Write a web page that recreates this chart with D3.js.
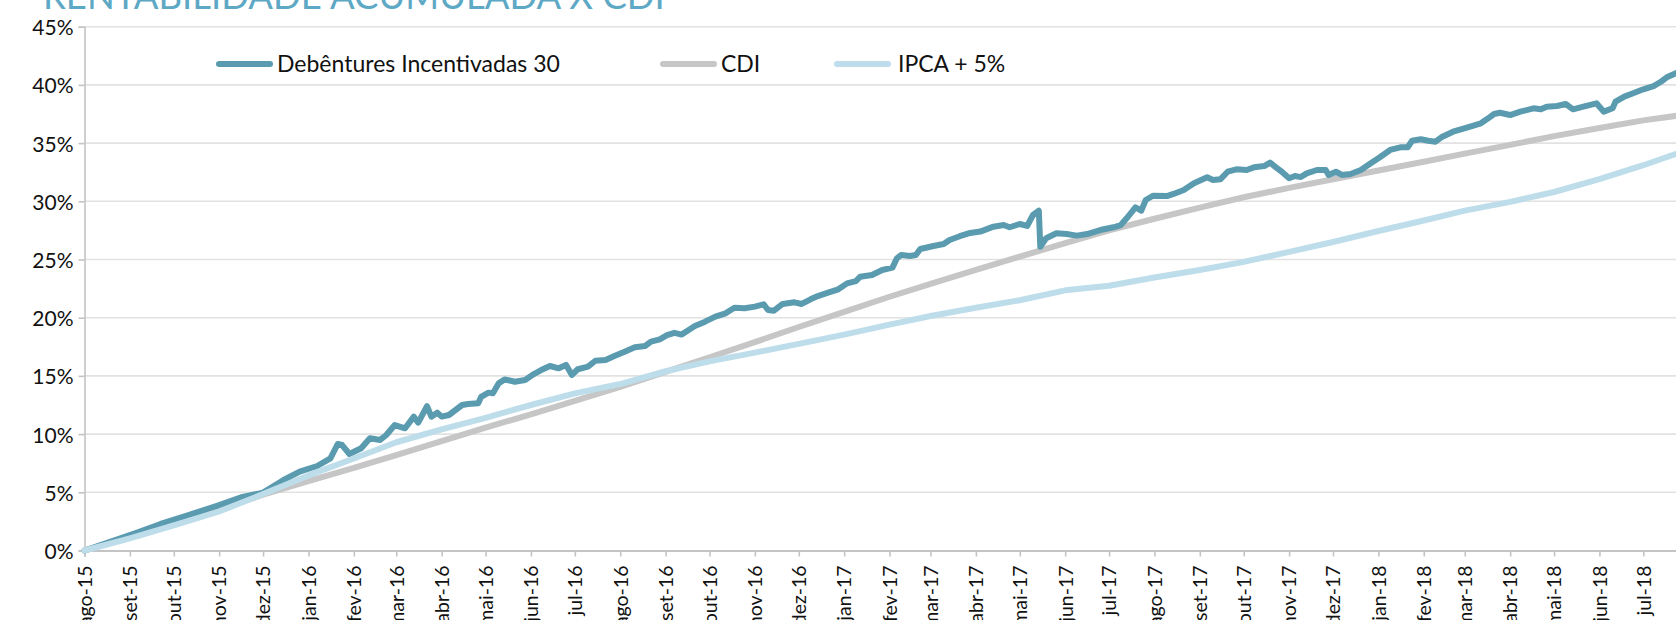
<!DOCTYPE html>
<html>
<head>
<meta charset="utf-8">
<script src="https://cdnjs.cloudflare.com/ajax/libs/d3/7.8.5/d3.min.js"></script>
<style>
  body { margin: 0; background: #fff; }
  svg { display: block; }
</style>
</head>
<body>
<svg id="chart"></svg>
<script>
//series values: [date, cumulative %]
var debentures = [
["2015-08-01",0],["2015-08-20",0.8],["2015-09-05",1.5],["2015-09-22",2.28],["2015-10-10",3.0],["2015-10-30",3.82],["2015-11-17",4.6],["2015-12-01",4.97],["2015-12-15",6.06],["2015-12-26",6.77],["2016-01-07",7.26],["2016-01-16",7.92],["2016-01-21",9.15],["2016-01-24",9.06],["2016-01-29",8.29],["2016-02-06",8.78],["2016-02-12",9.64],["2016-02-19",9.5],["2016-02-23",9.9],["2016-02-29",10.78],["2016-03-07",10.5],["2016-03-13",11.5],["2016-03-16",10.98],["2016-03-22",12.4],["2016-03-25",11.5],["2016-03-29",11.84],["2016-04-01",11.5],["2016-04-06",11.64],["2016-04-15",12.5],["2016-04-19",12.59],["2016-04-26",12.65],["2016-04-28",13.2],["2016-05-03",13.56],["2016-05-06",13.5],["2016-05-10",14.36],["2016-05-14",14.7],["2016-05-21",14.5],["2016-05-28",14.65],["2016-06-03",15.16],["2016-06-08",15.5],["2016-06-14",15.85],["2016-06-20",15.65],["2016-06-25",15.94],["2016-06-29",15.08],["2016-07-03",15.57],["2016-07-10",15.79],["2016-07-15",16.3],["2016-07-22",16.37],["2016-07-28",16.7],["2016-08-04",17.08],["2016-08-11",17.46],["2016-08-18",17.57],["2016-08-22",17.94],["2016-08-28",18.14],["2016-09-02",18.5],["2016-09-07",18.7],["2016-09-12",18.55],["2016-09-21",19.29],["2016-09-28",19.66],["2016-10-05",20.09],["2016-10-12",20.38],["2016-10-18",20.86],["2016-10-25",20.81],["2016-11-01",20.95],["2016-11-07",21.15],["2016-11-10",20.66],["2016-11-14",20.6],["2016-11-20",21.18],["2016-11-28",21.32],["2016-12-03",21.18],["2016-12-09",21.58],["2016-12-14",21.86],["2016-12-21",22.15],["2016-12-28",22.44],["2017-01-03",22.95],["2017-01-09",23.15],["2017-01-12",23.52],["2017-01-20",23.67],["2017-01-27",24.1],["2017-02-03",24.3],["2017-02-06",25.1],["2017-02-09",25.39],["2017-02-15",25.3],["2017-02-19",25.39],["2017-02-22",25.9],["2017-03-03",26.16],["2017-03-10",26.33],["2017-03-14",26.68],["2017-03-21",27.0],["2017-03-27",27.25],["2017-04-04",27.4],["2017-04-13",27.82],["2017-04-20",27.96],["2017-04-24",27.77],["2017-05-01",28.05],["2017-05-06",27.88],["2017-05-10",28.82],["2017-05-14",29.19],["2017-05-15",26.1],["2017-05-19",26.82],["2017-05-26",27.25],["2017-06-02",27.19],["2017-06-09",27.05],["2017-06-16",27.19],["2017-06-25",27.53],["2017-07-04",27.77],["2017-07-09",27.96],["2017-07-13",28.54],["2017-07-19",29.48],["2017-07-23",29.19],["2017-07-26",30.11],["2017-07-31",30.48],["2017-08-10",30.46],["2017-08-14",30.63],["2017-08-21",30.97],["2017-08-28",31.55],["2017-09-06",32.06],["2017-09-10",31.83],["2017-09-15",31.89],["2017-09-20",32.54],["2017-09-26",32.75],["2017-10-03",32.69],["2017-10-08",32.92],["2017-10-15",33.03],["2017-10-19",33.32],["2017-10-23",32.92],["2017-10-27",32.54],["2017-11-01",31.98],["2017-11-05",32.17],["2017-11-09",32.08],["2017-11-13",32.4],["2017-11-20",32.69],["2017-11-26",32.69],["2017-11-28",32.26],["2017-12-03",32.54],["2017-12-07",32.26],["2017-12-13",32.35],["2017-12-20",32.69],["2017-12-26",33.2],["2018-01-02",33.78],["2018-01-09",34.41],["2018-01-16",34.64],["2018-01-21",34.64],["2018-01-24",35.2],["2018-01-30",35.33],["2018-02-04",35.2],["2018-02-09",35.12],["2018-02-13",35.5],["2018-02-21",35.98],["2018-03-03",36.36],["2018-03-12",36.7],["2018-03-17",37.13],["2018-03-21",37.5],["2018-03-25",37.61],["2018-04-01",37.41],["2018-04-08",37.7],["2018-04-17",37.99],["2018-04-22",37.9],["2018-04-26",38.13],["2018-05-03",38.19],["2018-05-09",38.36],["2018-05-14",37.9],["2018-05-21",38.13],["2018-05-30",38.42],["2018-06-04",37.7],["2018-06-10",37.99],["2018-06-12",38.56],["2018-06-18",38.99],["2018-06-24",39.28],["2018-07-01",39.62],["2018-07-08",39.9],["2018-07-13",40.27],["2018-07-17",40.65],["2018-07-24",41.05]
];

var cdi = [
["2015-08-01",0],["2015-09-01",1.15],["2015-10-01",2.3],["2015-11-01",3.5],["2015-12-01",4.8],["2016-01-01",5.95],["2016-02-01",7.1],["2016-03-01",8.2],["2016-04-01",9.4],["2016-05-01",10.55],["2016-06-01",11.7],["2016-07-01",12.85],["2016-08-01",14.05],["2016-09-01",15.35],["2016-10-01",16.6],["2016-11-01",17.9],["2016-12-01",19.2],["2017-01-01",20.5],["2017-02-01",21.8],["2017-03-01",22.9],["2017-04-01",24.1],["2017-05-01",25.25],["2017-06-01",26.4],["2017-07-01",27.5],["2017-08-01",28.5],["2017-09-01",29.45],["2017-10-01",30.35],["2017-11-01",31.15],["2017-12-01",31.9],["2018-01-01",32.65],["2018-02-01",33.4],["2018-03-01",34.1],["2018-04-01",34.85],["2018-05-01",35.6],["2018-06-01",36.3],["2018-07-01",36.95],["2018-07-24",37.35]
];

var ipca = [
["2015-08-01",0],["2015-09-01",1.05],["2015-10-01",2.15],["2015-11-01",3.35],["2015-12-01",4.85],["2016-01-01",6.45],["2016-02-01",7.9],["2016-03-01",9.3],["2016-04-01",10.4],["2016-05-01",11.4],["2016-06-01",12.5],["2016-07-01",13.5],["2016-08-01",14.3],["2016-09-01",15.4],["2016-10-01",16.25],["2016-11-01",17.0],["2016-12-01",17.75],["2017-01-01",18.55],["2017-02-01",19.4],["2017-03-01",20.15],["2017-04-01",20.85],["2017-05-01",21.5],["2017-06-01",22.35],["2017-07-01",22.75],["2017-08-01",23.45],["2017-09-01",24.1],["2017-10-01",24.8],["2017-11-01",25.65],["2017-12-01",26.5],["2018-01-01",27.45],["2018-02-01",28.35],["2018-03-01",29.2],["2018-04-01",29.95],["2018-05-01",30.8],["2018-06-01",31.9],["2018-07-01",33.1],["2018-07-24",34.1]
];

//labels
var seriesNames = ['Debêntures Incentivadas 30', 'CDI', 'IPCA + 5%'];
var monthAbbr = ['jan','fev','mar','abr','mai','jun','jul','ago','set','out','nov','dez'];
var yTicks = [0, 5, 10, 15, 20, 25, 30, 35, 40, 45];
var chartTitle = 'RENTABILIDADE ACUMULADA X CDI';

function acumuladaChart() {
    var svg = d3.select('#chart')
        .attr('width', 1676)
        .attr('height', 620);

    var colors = ['#5B9BB0', '#C6C6C6', '#BEDDEB'];
    var font = 'Lato, "Open Sans", sans-serif';
    var parse = d3.timeParse('%Y-%m-%d');

    //plot extent
    var left = 84.5, right = 1677, top = 26.7, bottom = 550.5;

    var x = d3.scaleTime()
        .domain([parse('2015-08-01'), parse('2018-07-24')])
        .range([left, right]);

    var y = d3.scaleLinear()
        .domain([0, 45])
        .range([bottom, top]);

    //title (cut off at top of the picture)
    svg.append('text')
        .attr('x', 43)
        .attr('y', 8.5)
        .attr('font-family', font)
        .attr('font-size', 36.5)
        .attr('fill', '#5DA8C4')
        .text(chartTitle);

    //horizontal gridlines
    svg.append('g')
        .selectAll('line').data(yTicks.filter(d => d > 0))
        .enter().append('line')
            .attr('x1', left).attr('x2', 1676)
            .attr('y1', d => y(d)).attr('y2', d => y(d))
            .attr('stroke', '#E2E2E2')
            .attr('stroke-width', 1.6);

    //y axis
    var yAxis = svg.append('g')
        .attr('transform', 'translate(' + left + ',0)')
        .call(d3.axisLeft(y).tickValues(yTicks).tickSize(6).tickFormat(d => d + '%'));
    yAxis.select('.domain').attr('stroke', '#C4C4C4').attr('stroke-width', 1.6);
    yAxis.selectAll('.tick line').attr('stroke', '#C4C4C4').attr('stroke-width', 1.6);
    yAxis.selectAll('.tick text')
        .attr('x', -11)
        .attr('dy', '0.38em')
        .attr('font-family', font)
        .attr('font-size', 21)
        .attr('fill', '#111');

    //x axis with monthly ticks
    var months = d3.timeMonth.range(parse('2015-08-01'), parse('2018-07-24'));
    var xAxis = svg.append('g')
        .attr('transform', 'translate(0,' + bottom + ')')
        .call(d3.axisBottom(x).tickValues(months).tickSize(6)
            .tickFormat(d => monthAbbr[d.getMonth()] + '-' + d3.timeFormat('%y')(d)));
    xAxis.select('.domain').attr('stroke', '#C4C4C4').attr('stroke-width', 2);
    xAxis.selectAll('.tick line').attr('stroke', '#C4C4C4').attr('stroke-width', 1.6);
    xAxis.selectAll('.tick text')
        .attr('transform', 'rotate(-90)')
        .attr('text-anchor', 'end')
        .attr('x', -15)
        .attr('y', 0)
        .attr('dy', '0.35em')
        .attr('font-family', font)
        .attr('font-size', 19.5)
        .attr('fill', '#111');

    //clip lines to plot area
    svg.append('clipPath').attr('id', 'plotclip')
        .append('rect')
            .attr('x', left - 4).attr('y', 0)
            .attr('width', 1676 - left + 4).attr('height', bottom + 4);

    var line = d3.line()
        .x(d => x(parse(d[0])))
        .y(d => y(d[1]));

    //draw order: CDI, debentures, IPCA on top
    var series = [
        {data: cdi, color: colors[1]},
        {data: debentures, color: colors[0]},
        {data: ipca, color: colors[2]}
    ];
    svg.append('g')
        .attr('clip-path', 'url(#plotclip)')
        .selectAll('path').data(series)
        .enter().append('path')
            .attr('d', d => line(d.data))
            .attr('fill', 'none')
            .attr('stroke', d => d.color)
            .attr('stroke-width', 6)
            .attr('stroke-linejoin', 'round')
            .attr('stroke-linecap', 'round');

    //legend
    var legendX = [219, 663, 837];
    var legend = svg.append('g')
        .selectAll('g').data(seriesNames)
        .enter().append('g')
            .attr('transform', (d, i) => 'translate(' + legendX[i] + ',64)');
    legend.append('line')
        .attr('x1', 0).attr('x2', 51)
        .attr('stroke', (d, i) => colors[i])
        .attr('stroke-width', 6)
        .attr('stroke-linecap', 'round');
    legend.append('text')
        .attr('x', (d, i) => i === 2 ? 61 : 58)
        .attr('dy', '0.35em')
        .attr('font-family', font)
        .attr('font-size', 23)
        .attr('fill', '#111')
        .text(d => d);
}

acumuladaChart();
</script>
</body>
</html>
